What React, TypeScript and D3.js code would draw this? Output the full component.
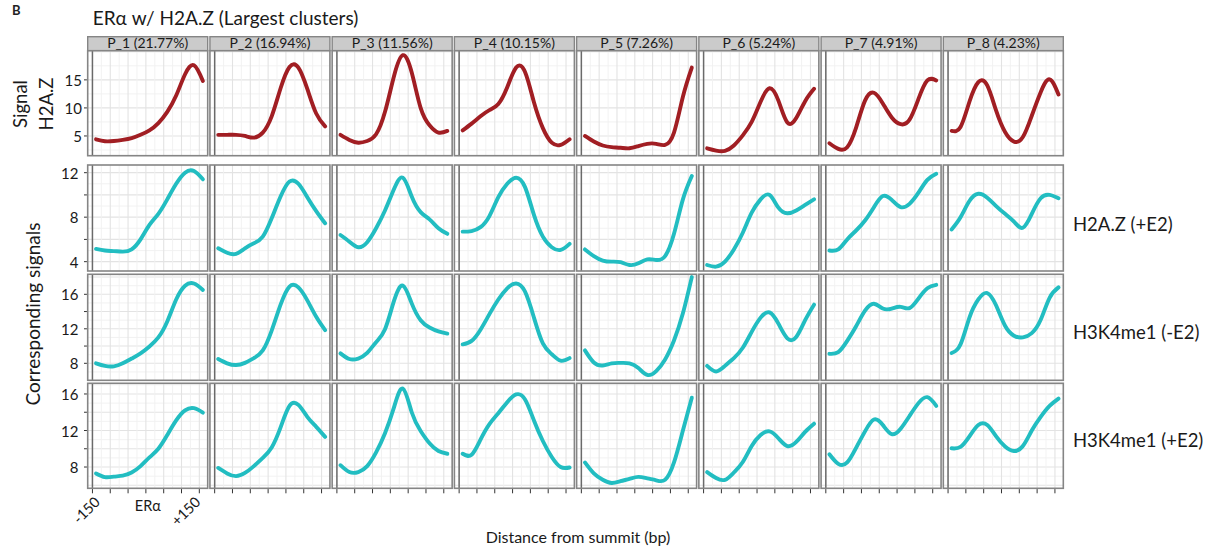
import React from "react";
import * as d3 from "d3";

// ---------- data ----------
const X_POS = [-140, -115, -90, -65, -40, -15, 10, 35, 60, 85, 110, 135, 160];

const CLUSTERS = [
  "P_1 (21.77%)", "P_2 (16.94%)", "P_3 (11.56%)", "P_4 (10.15%)",
  "P_5 (7.26%)", "P_6 (5.24%)", "P_7 (4.91%)", "P_8 (4.23%)",
];

const ROW_LABELS = ["H2A.Z (+E2)", "H3K4me1 (-E2)", "H3K4me1 (+E2)"];

// Row 1: Signal H2A.Z (clustering signal)
const H2AZ_SIGNAL = [
  [4.4, 4.05, 4.1, 4.3, 4.6, 5.2, 6.0, 7.3, 9.3, 12.2, 16.0, 17.6, 14.8],
  [5.2, 5.2, 5.2, 5.0, 4.7, 5.6, 8.5, 13.5, 17.3, 17.2, 13.4, 9.0, 6.7],
  [5.2, 4.3, 3.8, 4.1, 5.3, 9.3, 15.6, 19.4, 16.3, 10.0, 6.9, 5.6, 5.9],
  [6.0, 7.2, 8.5, 9.6, 10.7, 13.7, 17.2, 16.4, 11.0, 6.4, 3.8, 3.4, 4.4],
  [5.0, 4.0, 3.3, 3.0, 2.9, 2.8, 3.2, 3.6, 3.6, 3.4, 5.6, 12.0, 17.2],
  [2.8, 2.4, 2.35, 3.3, 5.1, 7.5, 11.1, 13.5, 11.3, 7.4, 8.2, 11.2, 13.4],
  [3.7, 2.7, 3.0, 6.5, 11.3, 12.7, 10.8, 8.3, 7.1, 7.9, 11.6, 14.9, 14.9],
  [5.9, 6.6, 11.1, 14.6, 14.0, 9.5, 5.7, 4.0, 4.8, 8.6, 12.8, 15.1, 12.4],
];

// Row 2: H2A.Z (+E2)
const H2AZ_E2 = [
  [5.15, 5.0, 4.95, 4.9, 5.1, 6.0, 7.3, 8.3, 9.6, 11.0, 12.0, 12.15, 11.4],
  [5.2, 4.8, 4.7, 5.2, 5.65, 6.25, 7.9, 9.85, 11.2, 11.0, 9.8, 8.55, 7.45],
  [6.4, 5.8, 5.3, 5.75, 7.0, 8.6, 10.5, 11.55, 9.85, 8.45, 7.8, 7.0, 6.5],
  [6.7, 6.75, 7.1, 8.1, 9.8, 11.0, 11.55, 10.7, 8.2, 6.25, 5.3, 5.05, 5.6],
  [5.1, 4.5, 4.1, 4.0, 3.95, 3.7, 3.85, 4.2, 4.15, 4.5, 6.5, 9.6, 11.7],
  [3.7, 3.55, 4.0, 5.1, 6.6, 8.4, 9.6, 10.0, 8.85, 8.35, 8.6, 9.1, 9.6],
  [5.0, 5.1, 6.0, 6.8, 7.7, 8.9, 9.9, 9.55, 8.9, 9.2, 10.2, 11.35, 11.9],
  [6.9, 8.0, 9.45, 10.1, 9.75, 9.0, 8.3, 7.6, 7.05, 8.3, 9.7, 10.0, 9.7],
];

// Row 3: H3K4me1 (-E2)
const H3K4ME1_NOE2 = [
  [8.0, 7.7, 7.65, 8.0, 8.55, 9.15, 9.95, 11.0, 12.85, 15.4, 17.0, 17.25, 16.5],
  [8.5, 8.0, 7.8, 8.05, 8.6, 9.5, 11.8, 14.8, 16.9, 16.8, 15.3, 13.4, 11.85],
  [9.15, 8.5, 8.55, 9.2, 10.45, 11.95, 15.2, 17.0, 14.95, 13.0, 12.15, 11.7, 11.45],
  [10.2, 10.6, 11.9, 13.7, 15.4, 16.7, 17.25, 16.3, 13.3, 10.3, 9.05, 8.3, 8.6],
  [9.5, 8.1, 7.75, 8.0, 8.05, 8.0, 7.45, 6.65, 7.1, 8.45, 10.65, 13.8, 18.0],
  [7.7, 7.05, 7.7, 8.6, 9.8, 11.65, 13.3, 13.9, 12.6, 10.9, 11.05, 13.0, 14.8],
  [9.1, 9.3, 10.6, 12.3, 14.1, 14.9, 14.35, 14.35, 14.55, 14.4, 15.5, 16.7, 17.1],
  [9.2, 10.2, 13.3, 15.4, 16.15, 14.7, 12.35, 11.2, 11.0, 11.5, 13.05, 15.6, 16.8],
];

// Row 4: H3K4me1 (+E2)
const H3K4ME1_E2 = [
  [7.3, 6.9, 6.95, 7.05, 7.4, 8.1, 9.05, 10.0, 11.5, 13.1, 14.2, 14.45, 13.95],
  [7.9, 7.3, 7.0, 7.35, 8.1, 9.0, 10.15, 12.35, 14.7, 14.8, 13.5, 12.4, 11.3],
  [8.2, 7.45, 7.45, 8.1, 9.6, 11.7, 14.5, 16.6, 14.0, 11.95, 10.6, 9.75, 9.45],
  [9.45, 9.35, 11.0, 12.7, 13.9, 15.1, 15.95, 15.4, 13.1, 10.85, 9.1, 8.0, 7.95],
  [8.5, 7.3, 6.6, 6.25, 6.45, 6.7, 6.92, 6.75, 6.55, 6.6, 8.5, 12.0, 15.6],
  [7.45, 6.8, 6.6, 7.4, 8.55, 10.3, 11.5, 11.9, 11.15, 10.3, 10.75, 11.85, 12.75],
  [9.4, 8.35, 8.5, 10.1, 11.9, 13.2, 12.6, 11.6, 12.2, 13.6, 15.0, 15.65, 14.7],
  [10.05, 10.2, 11.35, 12.6, 12.6, 11.35, 10.25, 9.75, 10.3, 12.0, 13.5, 14.7, 15.5],
];

// tick values / labels
const ROW1_TICKS = [5, 10, 15];
const ROW1_LABELS = [5, 10, 15];
const ROW2_TICKS = [4, 6, 8, 10, 12];
const ROW2_LABELS = [4, 8, 12];
const ROW34_TICKS = [8, 10, 12, 14, 16];
const ROW34_LABELS = [8, 12, 16];
const X_TICKS = [-150, -100, -50, 0, 50, 100, 150];
const X_LABELS: [number, string][] = [[-150, "-150"], [0, "ERα"], [150, "+150"]];

// ---------- style / layout ----------
const FONT = "Lato, 'Open Sans', 'DejaVu Sans', sans-serif";
const RED = "#a11e23";
const TEAL = "#22bdc1";
const BORDER = "#858585";
const PANEL_X0 = 87.7;
const PANEL_W = 120;
const PITCH = 122.23;
const X_DOMAIN: [number, number] = [-163.3, 173.5];

type RowCfg = {
  data: number[][];
  top: number;
  bottom: number;
  domain: [number, number];
  gridStep: number;
  ticks: number[];
  labels: number[];
  color: string;
  labelEnd: number;
};

const ROWS: RowCfg[] = [
  { data: H2AZ_SIGNAL, top: 50.7, bottom: 155.7, domain: [1.48, 20.2], gridStep: 2.5, ticks: ROW1_TICKS, labels: ROW1_LABELS, color: RED, labelEnd: 82 },
  { data: H2AZ_E2, top: 165, bottom: 271, domain: [3.16, 12.69], gridStep: 1, ticks: ROW2_TICKS, labels: ROW2_LABELS, color: TEAL, labelEnd: 78.5 },
  { data: H3K4ME1_NOE2, top: 274.3, bottom: 380.3, domain: [6.03, 18.32], gridStep: 1, ticks: ROW34_TICKS, labels: ROW34_LABELS, color: TEAL, labelEnd: 78.5 },
  { data: H3K4ME1_E2, top: 383.3, bottom: 488.3, domain: [5.67, 17.17], gridStep: 1, ticks: ROW34_TICKS, labels: ROW34_LABELS, color: TEAL, labelEnd: 78.5 },
];

const RIGHT_LABEL_Y = [231, 339, 446.7];

function range(a: number, b: number, step: number) {
  const out: number[] = [];
  const start = Math.ceil(a / step) * step;
  for (let v = start; v <= b + 1e-9; v += step) out.push(+v.toFixed(4));
  return out;
}

function Panel({ row, ci }: { row: RowCfg; ci: number }) {
  const left = PANEL_X0 + ci * PITCH;
  const x = d3.scaleLinear().domain(X_DOMAIN).range([left, left + PANEL_W]);
  const y = d3.scaleLinear().domain(row.domain).range([row.bottom, row.top]);
  const vGrid = range(-150, 150, 25);
  const hGrid = range(row.domain[0], row.domain[1], row.gridStep);
  const isMajorH = (v: number) =>
    row.gridStep === 1 ? v % 2 === 0 : v % 5 === 0;
  const line = d3
    .line<[number, number]>()
    .x((d) => x(d[0]))
    .y((d) => y(d[1]))
    .curve(d3.curveNatural);
  const pts: [number, number][] = X_POS.map((xv, i) => [xv, row.data[ci][i]]);
  return (
    <g>
      <rect x={left} y={row.top} width={PANEL_W} height={row.bottom - row.top} fill="#ffffff" />
      {hGrid.map((v) => (
        <line key={"h" + v} x1={left} x2={left + PANEL_W} y1={y(v)} y2={y(v)}
          stroke={isMajorH(v) ? "#e3e3e3" : "#f1f1f1"} strokeWidth={isMajorH(v) ? 1.1 : 0.9} />
      ))}
      {vGrid.map((v) => (
        <line key={"v" + v} y1={row.top} y2={row.bottom} x1={x(v)} x2={x(v)}
          stroke={v % 50 === 0 ? "#e3e3e3" : "#f1f1f1"} strokeWidth={v % 50 === 0 ? 1.1 : 0.9} />
      ))}
      <line x1={x(-150)} x2={x(-150)} y1={row.top} y2={row.bottom} stroke="#6a6a6a" strokeWidth={1.5} />
      <path d={line(pts) || ""} fill="none" stroke={row.color} strokeWidth={3.9}
        strokeLinecap="round" strokeLinejoin="round" />
      <rect x={left} y={row.top} width={PANEL_W} height={row.bottom - row.top}
        fill="none" stroke={BORDER} strokeWidth={1.6} />
    </g>
  );
}

export default function App() {
  const W = 1216;
  const H = 553;
  const lastRow = ROWS[3];
  return (
    <svg width={W} height={H} viewBox={`0 0 ${W} ${H}`}
      style={{ position: "absolute", left: 0, top: 0, background: "#fff", fontFamily: FONT }}>
      <rect width={W} height={H} fill="#ffffff" />
      <text x={12} y={15} fontSize={13} fontWeight="bold" fill="#222">B</text>
      <text x={92.7} y={24.7} fontSize={19} fill="#1a1a1a">ERα w/ H2A.Z (Largest clusters)</text>

      {/* strips */}
      {CLUSTERS.map((c, ci) => {
        const left = PANEL_X0 + ci * PITCH;
        return (
          <g key={c}>
            <rect x={left} y={36.7} width={PANEL_W} height={14} fill="#cbcbcb" stroke={BORDER} strokeWidth={1.4} />
            <text x={left + PANEL_W / 2} y={48.4} fontSize={14} textAnchor="middle" fill="#1a1a1a">{c}</text>
          </g>
        );
      })}

      {/* panels */}
      {ROWS.map((row, ri) => (
        <g key={"row" + ri}>
          {CLUSTERS.map((_, ci) => (
            <Panel key={ci} row={row} ci={ci} />
          ))}
          {(() => {
            const y = d3.scaleLinear().domain(row.domain).range([row.bottom, row.top]);
            return (
              <g>
                {row.ticks.map((t) => (
                  <line key={t} x1={84} x2={PANEL_X0 - 0.8} y1={y(t)} y2={y(t)} stroke="#333" strokeWidth={1} />
                ))}
                {row.labels.map((t) => (
                  <text key={t} x={row.labelEnd} y={y(t)} fontSize={15} textAnchor="end"
                    dominantBaseline="central" fill="#1a1a1a">{t}</text>
                ))}
              </g>
            );
          })()}
        </g>
      ))}

      {/* x axis ticks */}
      {CLUSTERS.map((_, ci) => {
        const left = PANEL_X0 + ci * PITCH;
        const x = d3.scaleLinear().domain(X_DOMAIN).range([left, left + PANEL_W]);
        return (
          <g key={"xt" + ci}>
            {X_TICKS.map((t) => (
              <line key={t} x1={x(t)} x2={x(t)} y1={lastRow.bottom + 0.8} y2={lastRow.bottom + 5}
                stroke="#333" strokeWidth={1} />
            ))}
            {ci === 0 &&
              X_LABELS.map(([v, s]) =>
                v === 0 ? (
                  <text key={s} x={x(v) + 2} y={511} fontSize={14.5} textAnchor="middle" fill="#1a1a1a">{s}</text>
                ) : (
                  <text key={s} transform={`translate(${x(v) + (v < 0 ? 8.5 : 2)},${503}) rotate(-45)`}
                    fontSize={14.5} textAnchor="end" fill="#1a1a1a">{s}</text>
                )
              )}
          </g>
        );
      })}

      {/* axis titles */}
      <text transform="translate(26.5,104) rotate(-90)" fontSize={18.5} textAnchor="middle" fill="#1a1a1a">Signal</text>
      <text transform="translate(52.5,104) rotate(-90)" fontSize={18.5} textAnchor="middle" fill="#1a1a1a">H2A.Z</text>
      <text transform="translate(40,314) rotate(-90)" fontSize={19} textAnchor="middle" fill="#1a1a1a">Corresponding signals</text>
      <text x={578} y={543} fontSize={16} textAnchor="middle" fill="#1a1a1a">Distance from summit (bp)</text>

      {ROW_LABELS.map((l, i) => (
        <text key={l} x={1073} y={RIGHT_LABEL_Y[i]} fontSize={18.5} fill="#1a1a1a">{l}</text>
      ))}
    </svg>
  );
}
